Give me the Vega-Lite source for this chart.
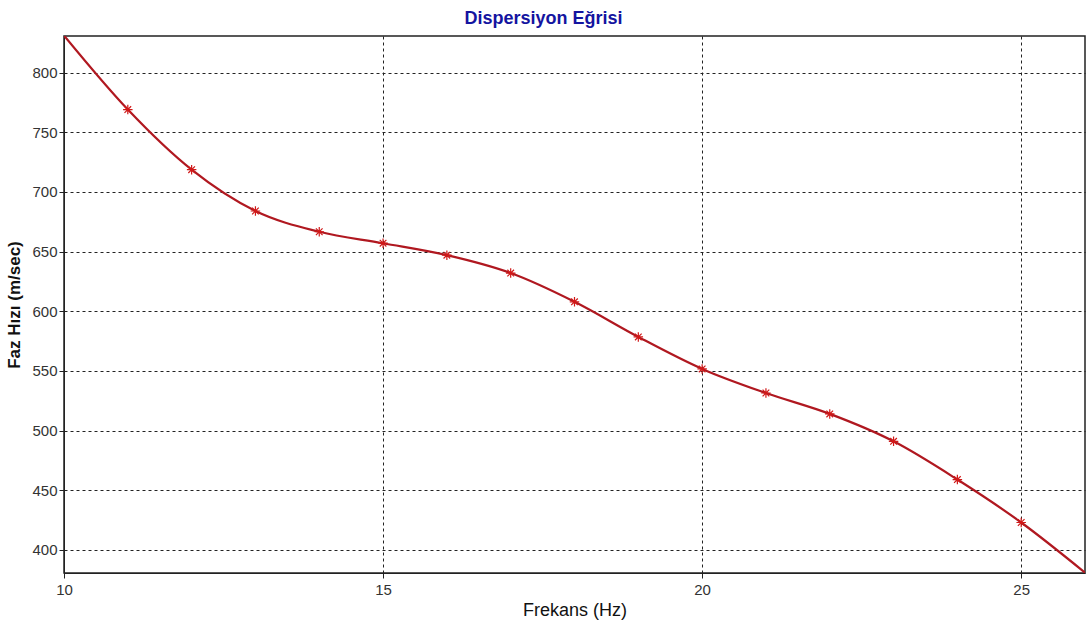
{
  "$schema": "https://vega.github.io/schema/vega-lite/v6.json",
  "width": 1021,
  "height": 537,
  "autosize": "none",
  "padding": {"left": 64, "top": 36, "right": 2, "bottom": 54},
  "background": "white",
  "title": {
    "text": "Dispersiyon Eğrisi",
    "font": "Liberation Sans",
    "fontSize": 18,
    "fontWeight": "bold",
    "color": "#1414A0",
    "anchor": "middle",
    "dx": -31,
    "offset": 8
  },
  "config": {
    "view": {"stroke": "#222222", "strokeWidth": 1.5},
    "axis": {
      "labelFont": "Liberation Sans",
      "titleFont": "Liberation Sans",
      "labelFontSize": 15,
      "labelColor": "#333333",
      "titleColor": "#111111",
      "domainColor": "#222222",
      "tickColor": "#222222",
      "gridColor": "#222222",
      "gridDash": [3, 3],
      "gridOpacity": 1,
      "gridWidth": 1,
      "tickSize": 5,
      "labelFlush": false
    }
  },
  "datasets": {
    "curve": [
      {"f": 10, "v": 831},
      {"f": 11, "v": 769},
      {"f": 12, "v": 718.6},
      {"f": 13, "v": 684},
      {"f": 14, "v": 666.6},
      {"f": 15, "v": 657},
      {"f": 16, "v": 647},
      {"f": 17, "v": 632},
      {"f": 18, "v": 607.9},
      {"f": 19, "v": 578.5},
      {"f": 20, "v": 551.7},
      {"f": 21, "v": 531.5},
      {"f": 22, "v": 514},
      {"f": 23, "v": 491},
      {"f": 24, "v": 459},
      {"f": 25, "v": 423},
      {"f": 26, "v": 381}
    ],
    "points": [
      {"f": 11, "v": 769},
      {"f": 12, "v": 718.6},
      {"f": 13, "v": 684},
      {"f": 14, "v": 666.6},
      {"f": 15, "v": 657},
      {"f": 16, "v": 647},
      {"f": 17, "v": 632},
      {"f": 18, "v": 607.9},
      {"f": 19, "v": 578.5},
      {"f": 20, "v": 551.7},
      {"f": 21, "v": 531.5},
      {"f": 22, "v": 514},
      {"f": 23, "v": 491},
      {"f": 24, "v": 459},
      {"f": 25, "v": 423}
    ]
  },
  "layer": [
    {
      "data": {"name": "curve"},
      "mark": {"type": "line", "color": "#B01820", "strokeWidth": 2.2, "interpolate": "monotone", "clip": true},
      "encoding": {
        "x": {
          "field": "f", "type": "quantitative",
          "scale": {"domain": [10, 26], "nice": false, "zero": false},
          "axis": {"values": [10, 15, 20, 25], "format": "d", "title": "Frekans (Hz)", "titleFontSize": 18, "titleFontWeight": "normal", "titlePadding": 4, "labelPadding": 4, "grid": true}
        },
        "y": {
          "field": "v", "type": "quantitative",
          "scale": {"domain": [380.7, 830.6], "nice": false, "zero": false},
          "axis": {"values": [400, 450, 500, 550, 600, 650, 700, 750, 800], "format": "d", "title": "Faz Hızı (m/sec)", "titleFontSize": 17, "titleFontWeight": "bold", "titlePadding": 8, "labelPadding": 2, "grid": true}
        }
      }
    },
    {
      "data": {"name": "points"},
      "mark": {
        "type": "point",
        "shape": "M-1,0L1,0M0,-1L0,1M-0.7,-0.7L0.7,0.7M-0.7,0.7L0.7,-0.7",
        "filled": false,
        "size": 90,
        "stroke": "#D01818",
        "strokeWidth": 1.2,
        "opacity": 1
      },
      "encoding": {
        "x": {"field": "f", "type": "quantitative"},
        "y": {"field": "v", "type": "quantitative"}
      }
    }
  ]
}
